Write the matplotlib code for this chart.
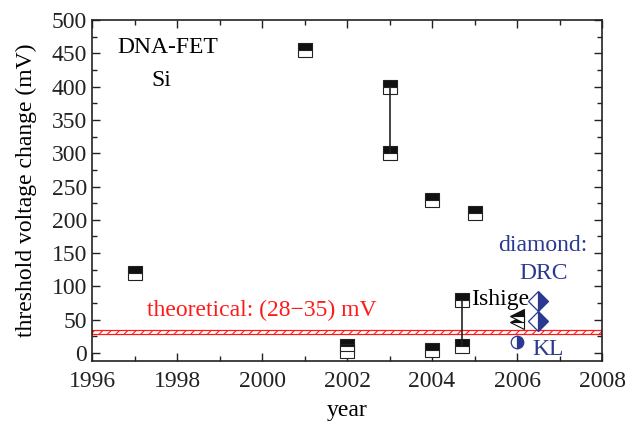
import matplotlib
matplotlib.use("Agg")
import matplotlib.pyplot as plt
from matplotlib.ticker import MultipleLocator

plt.rcParams['font.family'] = 'Liberation Serif'
plt.rcParams['font.serif'] = ['Liberation Serif']
plt.rcParams['mathtext.fontset'] = 'stix'
plt.rcParams['hatch.linewidth'] = 0.8

# Si DNA-FET reports (year, threshold voltage change in mV)
si_years = [1997, 2001, 2002, 2002, 2003, 2003, 2004, 2004, 2005]
si_dvth = [120, 455, 10, 3, 400, 300, 230, 5, 210]

# ranges reported in a single work (drawn as vertical bars)
range_2003_years = [2003, 2003]
range_2003_vals = [400, 300]
ishige_years = [2004.7, 2004.7]
ishige_vals = [80, 10]

# other groups
tri_years = [2006, 2006]
tri_vals = [55, 47]
kl_years = [2006]
kl_vals = [17]
drc_years = [2006.5, 2006.5]
drc_vals = [78, 48]

# theoretical window (mV)
theory_low, theory_high = 28, 35

blue = '#2b3990'
red = '#ff1a1a'
FONT = 'Liberation Serif'

fig = plt.figure(figsize=(6.32, 4.26), dpi=100)
ax = fig.add_axes([0.1456, 0.1525, 0.807, 0.8005])

ax.axhspan(theory_low, theory_high, facecolor='white', edgecolor=red,
           hatch='////', linewidth=0.9, zorder=1)

sq = dict(marker='s', markersize=9.5, fillstyle='top', markerfacecolor='#111111',
          markerfacecoloralt='white', markeredgecolor='#222222',
          markeredgewidth=0.8, linestyle='none', zorder=3)
ax.plot(si_years, si_dvth, **sq)
ax.plot(ishige_years, ishige_vals, **sq)

ax.plot(range_2003_years, range_2003_vals, color='#222222', lw=1.2, zorder=4)
ax.plot(ishige_years, ishige_vals, color='#222222', lw=1.2, zorder=4)

ax.plot(tri_years, tri_vals, marker='<', markersize=10, fillstyle='top',
        markerfacecolor='#111111', markerfacecoloralt='white',
        markeredgecolor='#111111', markeredgewidth=0.8, linestyle='none', zorder=3)
ax.plot(kl_years, kl_vals, marker='o', markersize=9, fillstyle='right',
        markerfacecolor=blue, markerfacecoloralt='white',
        markeredgecolor=blue, markeredgewidth=0.9, linestyle='none', zorder=3)
ax.plot(drc_years, drc_vals, marker='D', markersize=10, fillstyle='right',
        markerfacecolor=blue, markerfacecoloralt='white',
        markeredgecolor=blue, markeredgewidth=0.9, linestyle='none', zorder=3)

fs = 17
ax.text(1996.59, 458, 'DNA-FET', fontsize=fs, va='center', ha='left', family=FONT)
ax.text(1997.4, 409, 'Si', fontsize=fs, va='center', ha='left', family=FONT)
ax.text(1997.29, 64, 'theoretical: (28\u221235) mV', fontsize=fs, color=red,
        va='center', ha='left', family=FONT)
ax.text(2004.93, 80, 'Ishige', fontsize=fs, va='center', ha='left', family=FONT)
ax.text(2007.65, 161, 'diamond:', fontsize=fs, color=blue, va='center', ha='right',
        family=FONT)
ax.text(2007.2, 120, 'DRC', fontsize=fs, color=blue, va='center', ha='right',
        family=FONT)
ax.text(2006.35, 6, 'KL', fontsize=fs, color=blue, va='center', ha='left', family=FONT)

ax.set_xlim(1996, 2008)
ax.set_ylim(-12, 500)
ax.xaxis.set_major_locator(MultipleLocator(2))
ax.xaxis.set_minor_locator(MultipleLocator(1))
ax.yaxis.set_major_locator(MultipleLocator(50))
ax.yaxis.set_minor_locator(MultipleLocator(25))
ax.tick_params(which='both', direction='in', top=True, right=True,
               labelsize=fs, width=1.0, colors='#222222', labelcolor='#222222')
ax.tick_params(which='major', length=6)
ax.tick_params(which='minor', length=3.5)
ax.tick_params(axis='x', pad=7)
for lbl in ax.get_xticklabels() + ax.get_yticklabels():
    lbl.set_fontfamily(FONT)
for s in ax.spines.values():
    s.set_linewidth(1.2)
    s.set_color('#222222')

ax.set_xlabel('year', fontsize=fs, labelpad=6, family=FONT)
ax.set_ylabel('threshold voltage change (mV)', fontsize=fs, labelpad=11, family=FONT)

fig.savefig('out.png', dpi=100)
